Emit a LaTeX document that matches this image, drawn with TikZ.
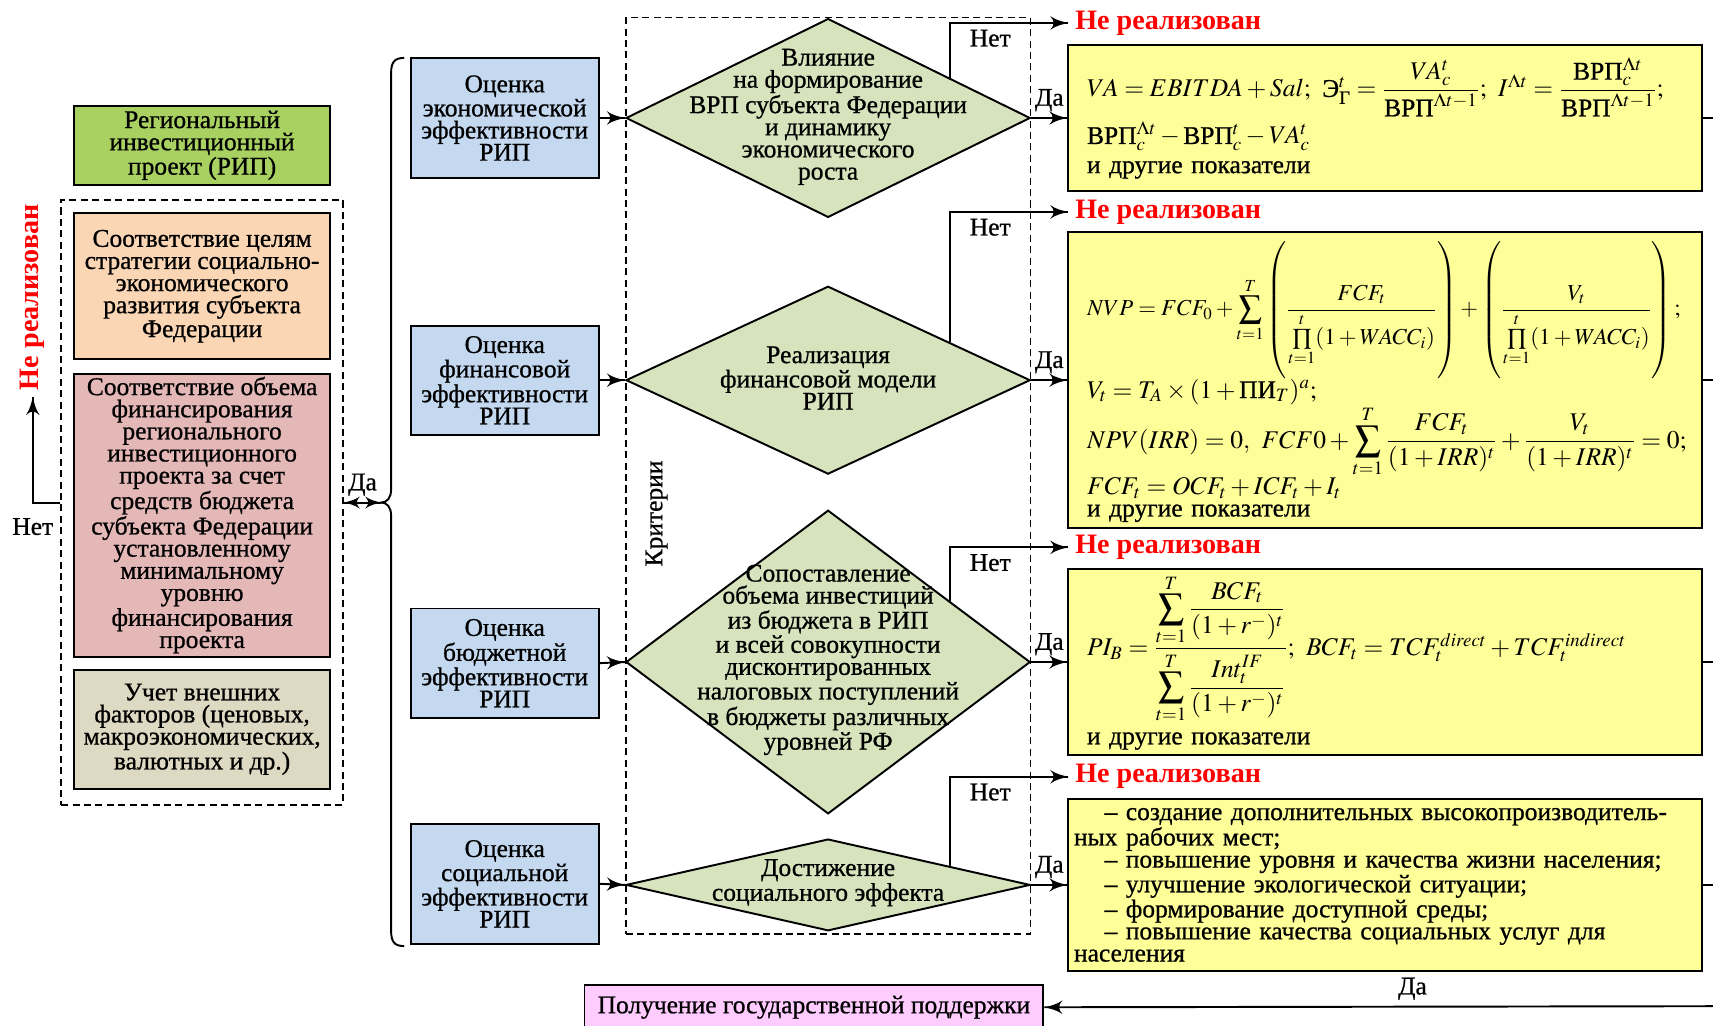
\documentclass[tikz,border=0pt]{standalone}
\usepackage{amsmath}
\usepackage{mathptmx}
\usepackage[no-math]{fontspec}
\setmainfont{Liberation Serif}[UprightFeatures = {FakeBold = 0.8}]
\usepackage{tikz}
\usetikzlibrary{arrows}
\usetikzlibrary{calc}
\usetikzlibrary{decorations.markings}
\usetikzlibrary{positioning}
\usetikzlibrary{shapes.geometric}
\tikzset{->/.style = {decoration={markings,
                                  mark=at position 1 with {\arrow[scale=1.7]{latex'}}},
                      postaction={decorate}}}
\tikzset{<->/.style = {decoration={markings,
                                   mark=at position 0 with {\arrowreversed[scale=1.5]{latex'}},
                                   mark=at position 1 with {\arrow[scale=1.5]{latex'}}},
                       postaction={decorate}}}
\definecolor{mgreen}{rgb}{0.66, 0.82, 0.38}
\definecolor{mpeach}{rgb}{0.98, 0.84, 0.71}
\definecolor{mrose}{rgb}{0.90, 0.72, 0.72}
\definecolor{mkhaki}{rgb}{0.87, 0.85, 0.76}
\definecolor{mblue}{rgb}{0.77, 0.85, 0.94}
\definecolor{molive}{rgb}{0.84, 0.89, 0.74}
\definecolor{myellow}{rgb}{1, 1, 0.6}
\definecolor{mpink}{rgb}{1, 0.8, 1}
\definecolor{mred}{rgb}{1, 0, 0}
\newcommand{\boxfont}{\rmfamily\fontsize{14.5}{12.6}\selectfont}
\newcommand{\redfont}{\rmfamily\fontsize{16}{18}\selectfont\bfseries}
\newcommand{\nvpfont}{\fontsize{13}{13}\selectfont}
\newcommand{\tallstrut}{\rule[-37pt]{0pt}{81pt}}
\tikzset{box/.style = {draw, align = center, inner sep = 0pt, font = \boxfont},
         dia/.style = {draw, diamond, inner sep = 0pt, fill = molive},
         dframe/.style = {draw, line width = 0.8pt, dash pattern = on 4pt off 2.5pt},
         lbl/.style = {font = \boxfont, align = center},
         nope/.style = {font = \redfont, text = mred},
         ybox/.style = {draw, fill = myellow, minimum width = 12.673cm, text width = 11.93cm,
                        inner xsep = 0.37cm, inner ysep = 0pt, align = left, font = \boxfont}}

\begin{document}
\begin{tikzpicture}[x = 0.02185cm, y = -0.02185cm, line width = 1.1pt]
    \useasboundingbox (0, 0) rectangle (1568, 939);
    \clip (0, 0) rectangle (1568, 939);

    \node [box, fill = mgreen, minimum width = 5.113cm, minimum height = 1.573cm] (rip) at (185, 133) {Региональный\\инвестиционный\\проект (РИП)};
    \node [dframe, minimum width = 5.637cm, minimum height = 12.105cm] (lbox) at (185, 460) {};
    \node [box, fill = mpeach, minimum width = 5.113cm, minimum height = 2.928cm] (goal) at (185, 262) {Соответствие целям\\стратегии социально-\\экономического\\развития субъекта\\Федерации};
    \node [box, fill = mrose, minimum width = 5.113cm, minimum height = 5.659cm] (fund) at (185, 471.5) {Соответствие объема\\финансирования\\регионального\\инвестиционного\\проекта за счет\\средств бюджета\\субъекта Федерации\\установленному\\минимальному\\уровню\\финансирования\\проекта};
    \node [box, fill = mkhaki, minimum width = 5.113cm, minimum height = 2.382cm] (ext) at (185, 667.5) {Учет внешних\\факторов (ценовых,\\макроэкономических,\\валютных и др.)};

    \node [nope, rotate = 90] (nr) at (30, 272) {Не реализован};
    \draw [->] (lbox.west) -| node [pos = 0.5, below = 5pt, lbl] (n0) {Нет} (nr.west);

    \coordinate (btip) at (349, 460);
    \draw (370, 53) .. controls (361, 53) and (358, 57) .. (358, 67) -- (358, 448)
        .. controls (358, 456) and (354, 460) .. (btip)
        .. controls (354, 460) and (358, 464) .. (358, 472) -- (358, 852)
        .. controls (358, 862) and (361, 866) .. (370, 866);
    \draw [<->] (lbox.east) -- node [above, lbl] (a0) {Да} (btip);

    \node [box, fill = mblue, minimum width = 3.758cm, minimum height = 2.404cm] (eco) at (462, 108) {Оценка\\экономической\\эффективности\\РИП};
    \node [box, fill = mblue, minimum width = 3.758cm, minimum height = 2.185cm] (fin) at (462, 348) {Оценка\\финансовой\\эффективности\\РИП};
    \node [box, fill = mblue, minimum width = 3.758cm, minimum height = 2.185cm] (bud) at (462, 607) {Оценка\\бюджетной\\эффективности\\РИП};
    \node [box, fill = mblue, minimum width = 3.758cm, minimum height = 2.404cm] (soc) at (462, 809) {Оценка\\социальной\\эффективности\\РИП};

    \node [dframe, minimum width = 8.085cm, minimum height = 18.332cm] (crit) at (758, 435.5) {};
    \node [lbl, rotate = 90] (critl) at (601, 470) {Критерии};

    \node [dia, minimum width = 8.085cm, minimum height = 3.977cm] (d1) at (758, 108) {};
    \node [lbl] (t1) at (758, 107) {Влияние\\на формирование\\ВРП субъекта Федерации\\и динамику\\экономического\\роста};
    \node [dia, minimum width = 8.085cm, minimum height = 3.758cm] (d2) at (758, 348) {};
    \node [lbl] (t2) at (758, 346) {Реализация\\финансовой модели\\РИП};
    \node [dia, minimum width = 8.085cm, minimum height = 6.074cm] (d3) at (758, 606) {};
    \node [lbl] (t3) at (758, 604) {Сопоставление\\объема инвестиций\\из бюджета в РИП\\и всей совокупности\\дисконтированных\\налоговых поступлений\\в бюджеты различных\\уровней РФ};
    \node [dia, minimum width = 8.085cm, minimum height = 1.835cm] (d4) at (758, 810) {};
    \node [lbl] (t4) at (758, 808) {Достижение\\социального эффекта};

    \draw [->] (eco.east) -- (d1.west);
    \draw [->] (fin.east) -- (d2.west);
    \draw [->] (bud.east) -- (d3.west);
    \draw [->] (soc.east) -- (d4.west);

    \node [ybox, minimum height = 2.906cm] (y1) at (1268, 108) {\mbox{$VA = EBITDA + Sal;\ \text{Э}_{\text{Г}}^{t} = \dfrac{VA_c^t}{\text{ВРП}^{\Lambda t-1}};\ I^{\Lambda t} = \dfrac{\text{ВРП}_c^{\Lambda t}}{\text{ВРП}^{\Lambda t-1}};$}\\[2pt]
        \mbox{$\text{ВРП}_c^{\Lambda t} - \text{ВРП}_c^{t} - VA_c^t$}\\[4pt]
        и другие показатели};
    \node [ybox, minimum height = 5.921cm] (y2) at (1268, 348) {\mbox{\nvpfont$\displaystyle NVP = FCF_0 + \sum_{t=1}^{T} \left( \tallstrut \frac{FCF_t}{\prod\limits_{t=1}^{t} (1 + WACC_i)} \right) + \left( \tallstrut \frac{V_t}{\prod\limits_{t=1}^{t} (1 + WACC_i)} \right);$}\\[-2pt]
        \mbox{$V_t = T_A \times (1 + \text{ПИ}_T)^a;$}\\[0pt]
        \mbox{$\displaystyle NPV(IRR) = 0,\ FCF0 + \sum_{t=1}^{T} \frac{FCF_t}{(1 + IRR)^t} + \frac{V_t}{(1 + IRR)^t} = 0;$}\\[-1pt]
        \mbox{$FCF_t = OCF_t + ICF_t + I_t$}\\
        и другие показатели};
    \node [ybox, minimum height = 3.715cm] (y3) at (1268, 606) {\mbox{$PI_B = \dfrac{\displaystyle\sum_{t=1}^{T} \frac{BCF_t}{(1 + r^-)^t}}{\displaystyle\sum_{t=1}^{T} \frac{Int_t^{IF}}{(1 + r^-)^t}};\ BCF_t = TCF_t^{direct} + TCF_t^{indirect}$}\\[4pt]
        и другие показатели};
    \node [ybox, minimum height = 3.430cm, inner xsep = 0.11cm, text width = 12.45cm] (y4) at (1268, 810) {\hspace*{1.2em}– создание дополнительных высокопроизводитель-\\
        ных рабочих мест;\\
        \hspace*{1.2em}– повышение уровня и качества жизни населения;\\
        \hspace*{1.2em}– улучшение экологической ситуации;\\
        \hspace*{1.2em}– формирование доступной среды;\\
        \hspace*{1.2em}– повышение качества социальных услуг для\\
        населения};

    \draw [->] (d1.east) -- node [above, lbl] (a1) {Да} (y1.west);
    \draw [->] (d2.east) -- node [above, lbl] (a2) {Да} (y2.west);
    \draw [->] (d3.east) -- node [above, lbl] (a3) {Да} (y3.west);
    \draw [->] (d4.east) -- node [above, lbl] (a4) {Да} (y4.west);

    \node [nope, anchor = west] (r1) at (978, 21) {Не реализован};
    \node [nope, anchor = west] (r2) at (978, 194) {Не реализован};
    \node [nope, anchor = west] (r3) at (978, 501) {Не реализован};
    \node [nope, anchor = west] (r4) at (978, 711) {Не реализован};
    \coordinate (d1n) at ($(d1.east)!0.4!(d1.north)$);
    \coordinate (d2n) at ($(d2.east)!0.4!(d2.north)$);
    \coordinate (d3n) at ($(d3.east)!0.4!(d3.north)$);
    \coordinate (d4n) at ($(d4.east)!0.4!(d4.north)$);
    \draw [->] (d1n) |- node [pos = 0.67, below, lbl] (n1) {Нет} (r1.west);
    \draw [->] (d2n) |- node [pos = 0.67, below, lbl] (n2) {Нет} (r2.west);
    \draw [->] (d3n) |- node [pos = 0.67, below, lbl] (n3) {Нет} (r3.west);
    \draw [->] (d4n) |- node [pos = 0.67, below, lbl] (n4) {Нет} (r4.west);

    \node [box, fill = mpink, minimum width = 9.177cm, minimum height = 0.874cm] (gos) at (745, 922) {Получение государственной поддержки};
    \coordinate (rc) at (1580, 921);
    \draw (y1.east) -- (y1.east -| rc) -- (rc);
    \draw (y2.east) -- (y2.east -| rc);
    \draw (y3.east) -- (y3.east -| rc);
    \draw (y4.east) -- (y4.east -| rc);
    \draw [->] (rc) -- node [pos = 0.46, above, lbl] (a5) {Да} (gos.east);
  \end{tikzpicture}
\end{document}
